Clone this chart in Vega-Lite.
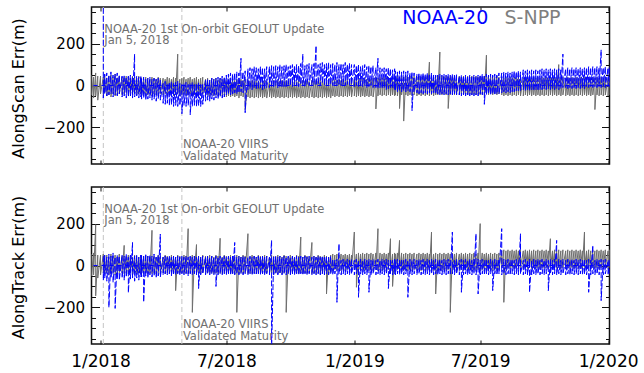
{
  "$schema": "https://vega.github.io/schema/vega-lite/v6.json",
  "autosize": {"type": "pad"},
  "padding": {"left": 9.5, "top": 4, "right": 5, "bottom": 5},
  "bounds": "flush",
  "spacing": 23,
  "background": "white",
  "config": {
    "view": {"stroke": "#111", "strokeWidth": 1.5},
    "axis": {"domain": false, "grid": false, "tickColor": "#111", "tickWidth": 1, "labelFont": "DejaVu Sans", "labelColor": "#000", "titleFont": "DejaVu Sans", "titleFontWeight": "normal", "titleColor": "#000", "labelOverlap": false, "labelFlush": false},
    "text": {"font": "DejaVu Sans"}
  },
  "datasets": {
    "events": [{"t": "2018-01-05"}, {"t": "2018-04-28"}],
    "notes": [
      {"t": "2018-01-05", "v": 252, "txt": ["NOAA-20 1st On-orbit GEOLUT Update", "Jan 5, 2018"]},
      {"t": "2018-04-28", "v": -300, "txt": ["NOAA-20 VIIRS", "Validated Maturity"]}
    ],
    "legend": [
      {"t": "2019-03-11", "v": 294, "s": "NOAA-20"},
      {"t": "2019-08-05", "v": 294, "s": "S-NPP"}
    ],
    "err": [
{"t":"2017-12-19","a":50,"c":55},{"t":"2017-12-19","a":-45,"c":-50},
{"t":"2017-12-22","a":40,"c":60},{"t":"2017-12-22","a":-60,"c":-45},
{"t":"2017-12-25","a":60,"c":195},{"t":"2017-12-25","a":-50,"c":-145},
{"t":"2017-12-28","a":45,"c":50},{"t":"2017-12-28","a":-70,"c":-60},
{"t":"2018-01-01","a":45,"c":50},{"t":"2018-01-01","a":-40,"c":-45},
{"t":"2018-01-05","a":40,"b":600,"c":55,"d":45},{"t":"2018-01-05","a":-50,"b":-60,"c":-35,"d":-70},
{"t":"2018-01-07","a":50,"b":55,"c":45,"d":50},{"t":"2018-01-07","a":-35,"b":-40,"c":-40,"d":-60},
{"t":"2018-01-10","a":35,"b":60,"c":50,"d":40},{"t":"2018-01-10","a":-50,"b":-50,"c":-35,"d":-75},
{"t":"2018-01-13","a":45,"b":50,"c":40,"d":55},{"t":"2018-01-13","a":-45,"b":-45,"c":-45,"d":-200},
{"t":"2018-01-16","a":50,"b":65,"c":55,"d":45},{"t":"2018-01-16","a":-55,"b":-40,"c":-40,"d":-60},
{"t":"2018-01-19","a":40,"b":50,"c":45,"d":60},{"t":"2018-01-19","a":-40,"b":-55,"c":-35,"d":-80},
{"t":"2018-01-22","a":55,"b":55,"c":50,"d":40},{"t":"2018-01-22","a":-50,"b":-45,"c":-45,"d":-205},
{"t":"2018-01-25","a":35,"b":60,"c":40,"d":50},{"t":"2018-01-25","a":-45,"b":-50,"c":-40,"d":-65},
{"t":"2018-01-28","a":45,"b":50,"c":55,"d":45},{"t":"2018-01-28","a":-40,"b":-40,"c":-35,"d":-70},
{"t":"2018-02-01","a":40,"b":45,"c":45,"d":50},{"t":"2018-02-01","a":-45,"b":-55,"c":-35,"d":-60},
{"t":"2018-02-04","a":35,"b":50,"c":96,"d":45},{"t":"2018-02-04","a":-40,"b":-50,"c":-40,"d":-70},
{"t":"2018-02-07","a":45,"b":40,"c":40,"d":55},{"t":"2018-02-07","a":-35,"b":-60,"c":-35,"d":-55},
{"t":"2018-02-10","a":40,"b":45,"c":50,"d":40},{"t":"2018-02-10","a":-45,"b":-55,"c":-40,"d":-130},
{"t":"2018-02-13","a":35,"b":50,"c":45,"d":50},{"t":"2018-02-13","a":-40,"b":-50,"c":-30,"d":-65},
{"t":"2018-02-16","a":45,"b":40,"c":40,"d":110},{"t":"2018-02-16","a":-45,"b":-60,"c":-40,"d":-60},
{"t":"2018-02-19","a":40,"b":150,"c":50,"d":45},{"t":"2018-02-19","a":-35,"b":-55,"c":-35,"d":-75},
{"t":"2018-02-22","a":35,"b":45,"c":45,"d":50},{"t":"2018-02-22","a":-45,"b":-50,"c":-40,"d":-60},
{"t":"2018-02-25","a":45,"b":40,"c":40,"d":40},{"t":"2018-02-25","a":-40,"b":-60,"c":-35,"d":-70},
{"t":"2018-02-28","a":40,"b":45,"c":50,"d":50},{"t":"2018-02-28","a":-40,"b":-55,"c":-40,"d":-55},
{"t":"2018-03-01","a":35,"b":35,"c":45,"d":50},{"t":"2018-03-01","a":-45,"b":-65,"c":-35,"d":-55},
{"t":"2018-03-04","a":30,"b":40,"c":40,"d":45},{"t":"2018-03-04","a":-40,"b":-60,"c":-40,"d":-175},
{"t":"2018-03-07","a":40,"b":30,"c":50,"d":55},{"t":"2018-03-07","a":-50,"b":-70,"c":-35,"d":-50},
{"t":"2018-03-10","a":35,"b":35,"c":45,"d":45},{"t":"2018-03-10","a":-45,"b":-65,"c":-40,"d":-60},
{"t":"2018-03-13","a":30,"b":40,"c":40,"d":50},{"t":"2018-03-13","a":-40,"b":-60,"c":-35,"d":-45},
{"t":"2018-03-16","a":40,"b":30,"c":168,"d":45},{"t":"2018-03-16","a":-50,"b":-70,"c":-40,"d":-55},
{"t":"2018-03-19","a":35,"b":35,"c":45,"d":55},{"t":"2018-03-19","a":-40,"b":-65,"c":-35,"d":-50},
{"t":"2018-03-22","a":30,"b":30,"c":40,"d":40},{"t":"2018-03-22","a":-45,"b":-75,"c":-40,"d":-60},
{"t":"2018-03-25","a":40,"b":35,"c":50,"d":50},{"t":"2018-03-25","a":-50,"b":-65,"c":-35,"d":-50},
{"t":"2018-03-28","a":35,"b":25,"c":45,"d":150},{"t":"2018-03-28","a":-40,"b":-70,"c":-40,"d":-55},
{"t":"2018-04-01","a":35,"b":15,"c":40,"d":40},{"t":"2018-04-01","a":-45,"b":-85,"c":-35,"d":-45},
{"t":"2018-04-04","a":30,"b":20,"c":50,"d":45},{"t":"2018-04-04","a":-40,"b":-90,"c":-40,"d":-40},
{"t":"2018-04-07","a":40,"b":10,"c":45,"d":40},{"t":"2018-04-07","a":-50,"b":-85,"c":-35,"d":-45},
{"t":"2018-04-10","a":35,"b":15,"c":40,"d":45},{"t":"2018-04-10","a":-45,"b":-95,"c":-40,"d":-40},
{"t":"2018-04-13","a":30,"b":20,"c":50,"d":40},{"t":"2018-04-13","a":-40,"b":-90,"c":-35,"d":-50},
{"t":"2018-04-16","a":40,"b":10,"c":45,"d":45},{"t":"2018-04-16","a":-50,"b":-100,"c":-40,"d":-40},
{"t":"2018-04-19","a":35,"b":15,"c":40,"d":40},{"t":"2018-04-19","a":-45,"b":-95,"c":-120,"d":-45},
{"t":"2018-04-22","a":150,"b":20,"c":50,"d":45},{"t":"2018-04-22","a":-40,"b":-100,"c":-35,"d":-40},
{"t":"2018-04-25","a":30,"b":10,"c":45,"d":40},{"t":"2018-04-25","a":-50,"b":-95,"c":-40,"d":-45},
{"t":"2018-04-28","a":35,"b":5,"c":40,"d":45},{"t":"2018-04-28","a":-45,"b":-135,"c":-35,"d":-40},
{"t":"2018-05-01","a":40,"b":10,"c":50,"d":40},{"t":"2018-05-01","a":-40,"b":-95,"c":-40,"d":-45},
{"t":"2018-05-04","a":30,"b":15,"c":45,"d":45},{"t":"2018-05-04","a":-50,"b":-100,"c":-35,"d":-40},
{"t":"2018-05-07","a":35,"b":5,"c":176,"d":40},{"t":"2018-05-07","a":-45,"b":-95,"c":-40,"d":-50},
{"t":"2018-05-10","a":40,"b":10,"c":40,"d":45},{"t":"2018-05-10","a":-40,"b":-140,"c":-35,"d":-40},
{"t":"2018-05-13","a":30,"b":15,"c":50,"d":40},{"t":"2018-05-13","a":-50,"b":-100,"c":-224,"d":-45},
{"t":"2018-05-16","a":35,"b":5,"c":45,"d":45},{"t":"2018-05-16","a":-45,"b":-95,"c":-35,"d":-40},
{"t":"2018-05-19","a":40,"b":10,"c":100,"d":40},{"t":"2018-05-19","a":-40,"b":-100,"c":-40,"d":-45},
{"t":"2018-05-22","a":30,"b":15,"c":45,"d":45},{"t":"2018-05-22","a":-50,"b":-95,"c":-35,"d":-110},
{"t":"2018-05-25","a":35,"b":5,"c":40,"d":40},{"t":"2018-05-25","a":-45,"b":-100,"c":-40,"d":-45},
{"t":"2018-05-28","a":40,"b":10,"c":50,"d":45},{"t":"2018-05-28","a":-40,"b":-90,"c":-35,"d":-40},
{"t":"2018-06-01","a":30,"b":25,"c":45,"d":40},{"t":"2018-06-01","a":-50,"b":-75,"c":-40,"d":-45},
{"t":"2018-06-04","a":35,"b":30,"c":40,"d":45},{"t":"2018-06-04","a":-45,"b":-70,"c":-35,"d":-40},
{"t":"2018-06-07","a":25,"b":25,"c":50,"d":40},{"t":"2018-06-07","a":-50,"b":-75,"c":-40,"d":-45},
{"t":"2018-06-10","a":35,"b":35,"c":45,"d":45},{"t":"2018-06-10","a":-45,"b":-65,"c":-35,"d":-40},
{"t":"2018-06-13","a":30,"b":30,"c":40,"d":40},{"t":"2018-06-13","a":-50,"b":-70,"c":-40,"d":-45},
{"t":"2018-06-16","a":35,"b":35,"c":50,"d":45},{"t":"2018-06-16","a":-45,"b":-60,"c":-35,"d":-100},
{"t":"2018-06-19","a":25,"b":40,"c":45,"d":40},{"t":"2018-06-19","a":-50,"b":-65,"c":-40,"d":-45},
{"t":"2018-06-22","a":35,"b":35,"c":130,"d":45},{"t":"2018-06-22","a":-45,"b":-55,"c":-35,"d":-40},
{"t":"2018-06-25","a":30,"b":45,"c":40,"d":40},{"t":"2018-06-25","a":-50,"b":-60,"c":-40,"d":-45},
{"t":"2018-06-28","a":35,"b":40,"c":50,"d":45},{"t":"2018-06-28","a":-45,"b":-55,"c":-35,"d":-40},
{"t":"2018-07-01","a":25,"b":50,"c":45,"d":40},{"t":"2018-07-01","a":-55,"b":-45,"c":-40,"d":-45},
{"t":"2018-07-04","a":30,"b":55,"c":40,"d":45},{"t":"2018-07-04","a":-50,"b":-40,"c":-35,"d":-40},
{"t":"2018-07-07","a":25,"b":60,"c":50,"d":40},{"t":"2018-07-07","a":-55,"b":-45,"c":-40,"d":-45},
{"t":"2018-07-10","a":30,"b":55,"c":45,"d":45},{"t":"2018-07-10","a":-50,"b":-40,"c":-35,"d":-40},
{"t":"2018-07-13","a":25,"b":60,"c":40,"d":110},{"t":"2018-07-13","a":-55,"b":-35,"c":-40,"d":-45},
{"t":"2018-07-16","a":30,"b":65,"c":50,"d":40},{"t":"2018-07-16","a":-50,"b":-40,"c":-224,"d":-40},
{"t":"2018-07-19","a":25,"b":60,"c":45,"d":45},{"t":"2018-07-19","a":-60,"b":-35,"c":-40,"d":-45},
{"t":"2018-07-22","a":30,"b":130,"c":40,"d":40},{"t":"2018-07-22","a":-50,"b":-30,"c":-35,"d":-40},
{"t":"2018-07-25","a":25,"b":65,"c":50,"d":45},{"t":"2018-07-25","a":-55,"b":-35,"c":-40,"d":-45},
{"t":"2018-07-28","a":30,"b":70,"c":45,"d":40},{"t":"2018-07-28","a":-115,"b":-130,"c":-35,"d":-40},
{"t":"2018-08-01","a":25,"b":80,"c":152,"d":40},{"t":"2018-08-01","a":-55,"b":-20,"c":-40,"d":-45},
{"t":"2018-08-04","a":20,"b":85,"c":40,"d":45},{"t":"2018-08-04","a":-60,"b":-15,"c":-35,"d":-40},
{"t":"2018-08-07","a":25,"b":80,"c":50,"d":40},{"t":"2018-08-07","a":-55,"b":-20,"c":-40,"d":-45},
{"t":"2018-08-10","a":20,"b":90,"c":45,"d":45},{"t":"2018-08-10","a":-60,"b":-10,"c":-35,"d":-40},
{"t":"2018-08-13","a":25,"b":85,"c":40,"d":40},{"t":"2018-08-13","a":-55,"b":-20,"c":-40,"d":-45},
{"t":"2018-08-16","a":20,"b":80,"c":50,"d":45},{"t":"2018-08-16","a":-60,"b":-15,"c":-35,"d":-40},
{"t":"2018-08-19","a":25,"b":90,"c":45,"d":40},{"t":"2018-08-19","a":-55,"b":-10,"c":-40,"d":-45},
{"t":"2018-08-22","a":20,"b":85,"c":40,"d":45},{"t":"2018-08-22","a":-60,"b":-20,"c":-35,"d":-40},
{"t":"2018-08-25","a":25,"b":80,"c":50,"d":40},{"t":"2018-08-25","a":-55,"b":-15,"c":-40,"d":-45},
{"t":"2018-08-28","a":20,"b":90,"c":45,"d":45},{"t":"2018-08-28","a":-60,"b":-10,"c":-35,"d":-40},
{"t":"2018-09-01","a":25,"b":90,"c":40,"d":40},{"t":"2018-09-01","a":-55,"b":-10,"c":-40,"d":-45},
{"t":"2018-09-04","a":20,"b":95,"c":50,"d":120},{"t":"2018-09-04","a":-60,"b":-5,"c":-35,"d":-400},
{"t":"2018-09-07","a":25,"b":90,"c":45,"d":40},{"t":"2018-09-07","a":-55,"b":-10,"c":-40,"d":-45},
{"t":"2018-09-10","a":20,"b":95,"c":40,"d":45},{"t":"2018-09-10","a":-60,"b":0,"c":-35,"d":-40},
{"t":"2018-09-13","a":25,"b":90,"c":50,"d":40},{"t":"2018-09-13","a":-55,"b":-10,"c":-40,"d":-45},
{"t":"2018-09-16","a":20,"b":100,"c":45,"d":45},{"t":"2018-09-16","a":-60,"b":-5,"c":-35,"d":-40},
{"t":"2018-09-19","a":25,"b":90,"c":40,"d":40},{"t":"2018-09-19","a":-55,"b":-10,"c":-40,"d":-45},
{"t":"2018-09-22","a":20,"b":95,"c":50,"d":45},{"t":"2018-09-22","a":-60,"b":-5,"c":-35,"d":-40},
{"t":"2018-09-25","a":25,"b":100,"c":45,"d":40},{"t":"2018-09-25","a":-55,"b":-10,"c":-224,"d":-45},
{"t":"2018-09-28","a":20,"b":90,"c":40,"d":45},{"t":"2018-09-28","a":-60,"b":0,"c":-35,"d":-40},
{"t":"2018-10-01","a":25,"b":95,"c":50,"d":40},{"t":"2018-10-01","a":-55,"b":0,"c":-40,"d":-45},
{"t":"2018-10-04","a":20,"b":100,"c":45,"d":45},{"t":"2018-10-04","a":-60,"b":-5,"c":-35,"d":-40},
{"t":"2018-10-07","a":25,"b":95,"c":40,"d":40},{"t":"2018-10-07","a":-55,"b":5,"c":-40,"d":-45},
{"t":"2018-10-10","a":20,"b":100,"c":50,"d":45},{"t":"2018-10-10","a":-60,"b":0,"c":-35,"d":-40},
{"t":"2018-10-13","a":25,"b":95,"c":45,"d":40},{"t":"2018-10-13","a":-55,"b":-5,"c":-40,"d":-45},
{"t":"2018-10-16","a":20,"b":105,"c":136,"d":45},{"t":"2018-10-16","a":-60,"b":5,"c":-35,"d":-40},
{"t":"2018-10-19","a":25,"b":150,"c":40,"d":40},{"t":"2018-10-19","a":-55,"b":0,"c":-40,"d":-45},
{"t":"2018-10-22","a":20,"b":95,"c":50,"d":45},{"t":"2018-10-22","a":-60,"b":-5,"c":-35,"d":-40},
{"t":"2018-10-25","a":25,"b":100,"c":45,"d":40},{"t":"2018-10-25","a":-55,"b":5,"c":-40,"d":-45},
{"t":"2018-10-28","a":20,"b":105,"c":40,"d":45},{"t":"2018-10-28","a":-60,"b":0,"c":-35,"d":-40},
{"t":"2018-11-01","a":25,"b":100,"c":110,"d":40},{"t":"2018-11-01","a":-55,"b":0,"c":-40,"d":-45},
{"t":"2018-11-04","a":20,"b":105,"c":45,"d":45},{"t":"2018-11-04","a":-60,"b":5,"c":-35,"d":-40},
{"t":"2018-11-07","a":25,"b":190,"c":40,"d":40},{"t":"2018-11-07","a":-55,"b":0,"c":-40,"d":-45},
{"t":"2018-11-10","a":20,"b":100,"c":50,"d":45},{"t":"2018-11-10","a":-60,"b":5,"c":-35,"d":-40},
{"t":"2018-11-13","a":25,"b":105,"c":45,"d":40},{"t":"2018-11-13","a":-55,"b":0,"c":-40,"d":-45},
{"t":"2018-11-16","a":20,"b":110,"c":40,"d":45},{"t":"2018-11-16","a":-60,"b":10,"c":-35,"d":-40},
{"t":"2018-11-19","a":25,"b":100,"c":50,"d":40},{"t":"2018-11-19","a":-55,"b":0,"c":-40,"d":-45},
{"t":"2018-11-22","a":20,"b":105,"c":45,"d":45},{"t":"2018-11-22","a":-60,"b":5,"c":-136,"d":-40},
{"t":"2018-11-25","a":25,"b":110,"c":40,"d":40},{"t":"2018-11-25","a":-55,"b":0,"c":-40,"d":-45},
{"t":"2018-11-28","a":20,"b":100,"c":50,"d":45},{"t":"2018-11-28","a":-60,"b":5,"c":-35,"d":-40},
{"t":"2018-12-01","a":25,"b":105,"c":55,"d":30},{"t":"2018-12-01","a":-50,"b":0,"c":-25,"d":-45},
{"t":"2018-12-04","a":30,"b":100,"c":50,"d":25},{"t":"2018-12-04","a":-55,"b":5,"c":-20,"d":-40},
{"t":"2018-12-07","a":25,"b":110,"c":55,"d":30},{"t":"2018-12-07","a":-50,"b":0,"c":-25,"d":-176},
{"t":"2018-12-10","a":30,"b":100,"c":50,"d":104},{"t":"2018-12-10","a":-55,"b":5,"c":-20,"d":-40},
{"t":"2018-12-13","a":25,"b":105,"c":55,"d":25},{"t":"2018-12-13","a":-50,"b":0,"c":-25,"d":-45},
{"t":"2018-12-16","a":30,"b":100,"c":50,"d":30},{"t":"2018-12-16","a":-55,"b":5,"c":-20,"d":-40},
{"t":"2018-12-19","a":25,"b":110,"c":55,"d":25},{"t":"2018-12-19","a":-50,"b":0,"c":-25,"d":-45},
{"t":"2018-12-22","a":30,"b":100,"c":50,"d":30},{"t":"2018-12-22","a":-55,"b":5,"c":-20,"d":-40},
{"t":"2018-12-25","a":25,"b":105,"c":55,"d":25},{"t":"2018-12-25","a":-50,"b":0,"c":-25,"d":-45},
{"t":"2018-12-28","a":30,"b":100,"c":50,"d":30},{"t":"2018-12-28","a":-55,"b":5,"c":-20,"d":-40},
{"t":"2019-01-01","a":30,"b":100,"c":160,"d":25},{"t":"2019-01-01","a":-50,"b":-5,"c":-20,"d":-45},
{"t":"2019-01-04","a":35,"b":95,"c":55,"d":30},{"t":"2019-01-04","a":-55,"b":0,"c":-104,"d":-40},
{"t":"2019-01-07","a":30,"b":100,"c":60,"d":25},{"t":"2019-01-07","a":-50,"b":-5,"c":-20,"d":-152},
{"t":"2019-01-10","a":35,"b":90,"c":55,"d":30},{"t":"2019-01-10","a":-55,"b":0,"c":-25,"d":-40},
{"t":"2019-01-13","a":30,"b":95,"c":60,"d":25},{"t":"2019-01-13","a":-50,"b":-5,"c":-20,"d":-45},
{"t":"2019-01-16","a":35,"b":100,"c":55,"d":30},{"t":"2019-01-16","a":-55,"b":0,"c":-25,"d":-40},
{"t":"2019-01-19","a":30,"b":90,"c":60,"d":25},{"t":"2019-01-19","a":-50,"b":-10,"c":-20,"d":-45},
{"t":"2019-01-22","a":35,"b":95,"c":55,"d":30},{"t":"2019-01-22","a":-55,"b":-5,"c":-25,"d":-128},
{"t":"2019-01-25","a":30,"b":90,"c":60,"d":25},{"t":"2019-01-25","a":-50,"b":0,"c":-20,"d":-45},
{"t":"2019-01-28","a":35,"b":95,"c":55,"d":30},{"t":"2019-01-28","a":-55,"b":-10,"c":-25,"d":-40},
{"t":"2019-02-01","a":40,"b":85,"c":60,"d":25},{"t":"2019-02-01","a":-112,"b":-10,"c":-20,"d":-45},
{"t":"2019-02-04","a":35,"b":130,"c":176,"d":30},{"t":"2019-02-04","a":-50,"b":-15,"c":-25,"d":-40},
{"t":"2019-02-07","a":40,"b":85,"c":60,"d":25},{"t":"2019-02-07","a":-45,"b":-10,"c":-20,"d":-45},
{"t":"2019-02-10","a":35,"b":80,"c":55,"d":30},{"t":"2019-02-10","a":-50,"b":-15,"c":-25,"d":-40},
{"t":"2019-02-13","a":40,"b":85,"c":60,"d":25},{"t":"2019-02-13","a":-45,"b":-10,"c":-20,"d":-45},
{"t":"2019-02-16","a":35,"b":80,"c":55,"d":30},{"t":"2019-02-16","a":-50,"b":-20,"c":-25,"d":-40},
{"t":"2019-02-19","a":40,"b":85,"c":60,"d":25},{"t":"2019-02-19","a":-45,"b":-15,"c":-20,"d":-110},
{"t":"2019-02-22","a":35,"b":80,"c":128,"d":30},{"t":"2019-02-22","a":-50,"b":-10,"c":-25,"d":-40},
{"t":"2019-02-25","a":40,"b":75,"c":55,"d":25},{"t":"2019-02-25","a":-45,"b":-15,"c":-100,"d":-45},
{"t":"2019-02-28","a":35,"b":80,"c":60,"d":30},{"t":"2019-02-28","a":-50,"b":-20,"c":-20,"d":-40},
{"t":"2019-03-01","a":40,"b":70,"c":55,"d":25},{"t":"2019-03-01","a":-45,"b":-25,"c":-25,"d":-45},
{"t":"2019-03-04","a":45,"b":65,"c":60,"d":30},{"t":"2019-03-04","a":-50,"b":-30,"c":-20,"d":-40},
{"t":"2019-03-07","a":40,"b":70,"c":120,"d":25},{"t":"2019-03-07","a":-110,"b":-25,"c":-25,"d":-45},
{"t":"2019-03-10","a":45,"b":65,"c":60,"d":30},{"t":"2019-03-10","a":-45,"b":-30,"c":-20,"d":-40},
{"t":"2019-03-13","a":40,"b":70,"c":55,"d":25},{"t":"2019-03-13","a":-170,"b":-25,"c":-25,"d":-45},
{"t":"2019-03-16","a":45,"b":65,"c":60,"d":30},{"t":"2019-03-16","a":-45,"b":-30,"c":-20,"d":-40},
{"t":"2019-03-19","a":40,"b":70,"c":55,"d":25},{"t":"2019-03-19","a":-50,"b":-25,"c":-25,"d":-152},
{"t":"2019-03-22","a":45,"b":60,"c":60,"d":30},{"t":"2019-03-22","a":-45,"b":-30,"c":-20,"d":-40},
{"t":"2019-03-25","a":40,"b":65,"c":55,"d":25},{"t":"2019-03-25","a":-50,"b":-120,"c":-25,"d":-45},
{"t":"2019-03-28","a":45,"b":60,"c":60,"d":30},{"t":"2019-03-28","a":-45,"b":-30,"c":-20,"d":-40},
{"t":"2019-04-01","a":40,"b":55,"c":55,"d":25},{"t":"2019-04-01","a":-50,"b":-35,"c":-25,"d":-45},
{"t":"2019-04-04","a":45,"b":60,"c":60,"d":30},{"t":"2019-04-04","a":-45,"b":-40,"c":-20,"d":-40},
{"t":"2019-04-07","a":40,"b":55,"c":55,"d":25},{"t":"2019-04-07","a":-50,"b":-35,"c":-25,"d":-45},
{"t":"2019-04-10","a":45,"b":60,"c":60,"d":30},{"t":"2019-04-10","a":-45,"b":-40,"c":-20,"d":-40},
{"t":"2019-04-13","a":40,"b":55,"c":55,"d":25},{"t":"2019-04-13","a":-50,"b":-35,"c":-25,"d":-45},
{"t":"2019-04-16","a":45,"b":60,"c":60,"d":30},{"t":"2019-04-16","a":-45,"b":-40,"c":-20,"d":-40},
{"t":"2019-04-19","a":112,"b":55,"c":55,"d":25},{"t":"2019-04-19","a":-50,"b":-35,"c":-25,"d":-45},
{"t":"2019-04-22","a":45,"b":60,"c":160,"d":30},{"t":"2019-04-22","a":-45,"b":-40,"c":-20,"d":-40},
{"t":"2019-04-25","a":40,"b":55,"c":55,"d":25},{"t":"2019-04-25","a":-50,"b":-35,"c":-25,"d":-45},
{"t":"2019-04-28","a":45,"b":50,"c":60,"d":30},{"t":"2019-04-28","a":-45,"b":-40,"c":-136,"d":-40},
{"t":"2019-05-01","a":45,"b":50,"c":55,"d":25},{"t":"2019-05-01","a":-45,"b":-40,"c":-25,"d":-45},
{"t":"2019-05-04","a":160,"b":55,"c":60,"d":30},{"t":"2019-05-04","a":-40,"b":-45,"c":-20,"d":-40},
{"t":"2019-05-07","a":45,"b":50,"c":55,"d":25},{"t":"2019-05-07","a":-45,"b":-40,"c":-25,"d":-45},
{"t":"2019-05-10","a":40,"b":55,"c":60,"d":30},{"t":"2019-05-10","a":-40,"b":-45,"c":-20,"d":-40},
{"t":"2019-05-13","a":45,"b":50,"c":55,"d":25},{"t":"2019-05-13","a":-45,"b":-40,"c":-25,"d":-45},
{"t":"2019-05-16","a":40,"b":55,"c":60,"d":30},{"t":"2019-05-16","a":-110,"b":-45,"c":-20,"d":-40},
{"t":"2019-05-19","a":45,"b":50,"c":55,"d":25},{"t":"2019-05-19","a":-45,"b":-40,"c":-224,"d":-45},
{"t":"2019-05-22","a":40,"b":55,"c":60,"d":160},{"t":"2019-05-22","a":-40,"b":-45,"c":-20,"d":-40},
{"t":"2019-05-25","a":45,"b":50,"c":55,"d":25},{"t":"2019-05-25","a":-45,"b":-40,"c":-25,"d":-45},
{"t":"2019-05-28","a":40,"b":55,"c":60,"d":30},{"t":"2019-05-28","a":-40,"b":-45,"c":-20,"d":-40},
{"t":"2019-06-01","a":45,"b":45,"c":55,"d":25},{"t":"2019-06-01","a":-45,"b":-45,"c":-25,"d":-45},
{"t":"2019-06-04","a":40,"b":50,"c":60,"d":30},{"t":"2019-06-04","a":-40,"b":-50,"c":-20,"d":-128},
{"t":"2019-06-07","a":45,"b":45,"c":55,"d":25},{"t":"2019-06-07","a":-45,"b":-45,"c":-25,"d":-45},
{"t":"2019-06-10","a":40,"b":50,"c":60,"d":30},{"t":"2019-06-10","a":-40,"b":-50,"c":-20,"d":-40},
{"t":"2019-06-13","a":45,"b":45,"c":55,"d":25},{"t":"2019-06-13","a":-45,"b":-45,"c":-25,"d":-45},
{"t":"2019-06-16","a":40,"b":50,"c":60,"d":30},{"t":"2019-06-16","a":-40,"b":-50,"c":-20,"d":-40},
{"t":"2019-06-19","a":45,"b":45,"c":55,"d":25},{"t":"2019-06-19","a":-45,"b":-45,"c":-25,"d":-45},
{"t":"2019-06-22","a":40,"b":50,"c":60,"d":30},{"t":"2019-06-22","a":-40,"b":-50,"c":-20,"d":-40},
{"t":"2019-06-25","a":45,"b":45,"c":55,"d":152},{"t":"2019-06-25","a":-45,"b":-45,"c":-25,"d":-45},
{"t":"2019-06-28","a":40,"b":50,"c":60,"d":30},{"t":"2019-06-28","a":-40,"b":-50,"c":-20,"d":-136},
{"t":"2019-07-01","a":45,"b":50,"c":200,"d":25},{"t":"2019-07-01","a":-45,"b":-40,"c":-25,"d":-45},
{"t":"2019-07-04","a":40,"b":55,"c":60,"d":30},{"t":"2019-07-04","a":-40,"b":-45,"c":-20,"d":-40},
{"t":"2019-07-07","a":45,"b":50,"c":55,"d":25},{"t":"2019-07-07","a":-45,"b":-90,"c":-25,"d":-45},
{"t":"2019-07-10","a":145,"b":55,"c":60,"d":30},{"t":"2019-07-10","a":-40,"b":-45,"c":-20,"d":-40},
{"t":"2019-07-13","a":45,"b":50,"c":55,"d":25},{"t":"2019-07-13","a":-45,"b":-40,"c":-25,"d":-45},
{"t":"2019-07-16","a":40,"b":55,"c":60,"d":30},{"t":"2019-07-16","a":-40,"b":-45,"c":-20,"d":-40},
{"t":"2019-07-19","a":45,"b":50,"c":55,"d":25},{"t":"2019-07-19","a":-45,"b":-40,"c":-25,"d":-120},
{"t":"2019-07-22","a":40,"b":55,"c":60,"d":30},{"t":"2019-07-22","a":-40,"b":-45,"c":-20,"d":-40},
{"t":"2019-07-25","a":45,"b":50,"c":55,"d":25},{"t":"2019-07-25","a":-45,"b":-40,"c":-25,"d":-45},
{"t":"2019-07-28","a":40,"b":60,"c":60,"d":30},{"t":"2019-07-28","a":-40,"b":-40,"c":-20,"d":-40},
{"t":"2019-08-01","a":40,"b":60,"c":70,"d":176},{"t":"2019-08-01","a":-45,"b":-35,"c":-10,"d":-45},
{"t":"2019-08-04","a":35,"b":65,"c":75,"d":30},{"t":"2019-08-04","a":-50,"b":-30,"c":-176,"d":-40},
{"t":"2019-08-07","a":40,"b":60,"c":70,"d":25},{"t":"2019-08-07","a":-45,"b":-35,"c":-15,"d":-45},
{"t":"2019-08-10","a":35,"b":65,"c":75,"d":30},{"t":"2019-08-10","a":-50,"b":-30,"c":-10,"d":-40},
{"t":"2019-08-13","a":40,"b":60,"c":70,"d":25},{"t":"2019-08-13","a":-45,"b":-35,"c":-15,"d":-45},
{"t":"2019-08-16","a":35,"b":65,"c":75,"d":30},{"t":"2019-08-16","a":-50,"b":-30,"c":-10,"d":-40},
{"t":"2019-08-19","a":40,"b":70,"c":70,"d":25},{"t":"2019-08-19","a":-45,"b":-30,"c":-15,"d":-45},
{"t":"2019-08-22","a":35,"b":65,"c":75,"d":30},{"t":"2019-08-22","a":-50,"b":-25,"c":-10,"d":-40},
{"t":"2019-08-25","a":40,"b":70,"c":70,"d":25},{"t":"2019-08-25","a":-45,"b":-25,"c":-15,"d":-45},
{"t":"2019-08-28","a":35,"b":65,"c":75,"d":152},{"t":"2019-08-28","a":-50,"b":-25,"c":-10,"d":-40},
{"t":"2019-09-01","a":35,"b":75,"c":70,"d":25},{"t":"2019-09-01","a":-50,"b":-20,"c":-15,"d":-45},
{"t":"2019-09-04","a":40,"b":70,"c":75,"d":30},{"t":"2019-09-04","a":-45,"b":-25,"c":-10,"d":-40},
{"t":"2019-09-07","a":35,"b":75,"c":70,"d":25},{"t":"2019-09-07","a":-50,"b":-20,"c":-15,"d":-45},
{"t":"2019-09-10","a":40,"b":70,"c":75,"d":30},{"t":"2019-09-10","a":-45,"b":-25,"c":-10,"d":-128},
{"t":"2019-09-13","a":35,"b":75,"c":70,"d":25},{"t":"2019-09-13","a":-50,"b":-20,"c":-15,"d":-45},
{"t":"2019-09-16","a":40,"b":70,"c":75,"d":30},{"t":"2019-09-16","a":-45,"b":-25,"c":-10,"d":-40},
{"t":"2019-09-19","a":35,"b":75,"c":70,"d":25},{"t":"2019-09-19","a":-50,"b":-20,"c":-15,"d":-45},
{"t":"2019-09-22","a":40,"b":70,"c":75,"d":30},{"t":"2019-09-22","a":-45,"b":-25,"c":-10,"d":-40},
{"t":"2019-09-25","a":35,"b":75,"c":70,"d":25},{"t":"2019-09-25","a":-50,"b":-20,"c":-15,"d":-45},
{"t":"2019-09-28","a":40,"b":80,"c":75,"d":30},{"t":"2019-09-28","a":-45,"b":-20,"c":-10,"d":-40},
{"t":"2019-10-01","a":35,"b":75,"c":70,"d":25},{"t":"2019-10-01","a":-50,"b":-15,"c":-15,"d":-45},
{"t":"2019-10-04","a":40,"b":80,"c":75,"d":30},{"t":"2019-10-04","a":-45,"b":-20,"c":-10,"d":-40},
{"t":"2019-10-07","a":35,"b":75,"c":70,"d":25},{"t":"2019-10-07","a":-50,"b":-15,"c":-15,"d":-120},
{"t":"2019-10-10","a":40,"b":80,"c":128,"d":30},{"t":"2019-10-10","a":-45,"b":-20,"c":-10,"d":-40},
{"t":"2019-10-13","a":35,"b":75,"c":70,"d":25},{"t":"2019-10-13","a":-50,"b":-15,"c":-15,"d":-45},
{"t":"2019-10-16","a":40,"b":80,"c":75,"d":30},{"t":"2019-10-16","a":-45,"b":-20,"c":-10,"d":-40},
{"t":"2019-10-19","a":35,"b":75,"c":70,"d":120},{"t":"2019-10-19","a":-50,"b":-15,"c":-15,"d":-45},
{"t":"2019-10-22","a":100,"b":80,"c":75,"d":30},{"t":"2019-10-22","a":-45,"b":-20,"c":-10,"d":-40},
{"t":"2019-10-25","a":35,"b":75,"c":70,"d":25},{"t":"2019-10-25","a":-50,"b":-15,"c":-15,"d":-45},
{"t":"2019-10-28","a":40,"b":150,"c":75,"d":30},{"t":"2019-10-28","a":-45,"b":-10,"c":-10,"d":-40},
{"t":"2019-11-01","a":35,"b":80,"c":70,"d":25},{"t":"2019-11-01","a":-50,"b":-10,"c":-15,"d":-45},
{"t":"2019-11-04","a":40,"b":85,"c":75,"d":30},{"t":"2019-11-04","a":-45,"b":-15,"c":-10,"d":-40},
{"t":"2019-11-07","a":35,"b":80,"c":70,"d":25},{"t":"2019-11-07","a":-50,"b":-10,"c":-15,"d":-45},
{"t":"2019-11-10","a":40,"b":85,"c":75,"d":30},{"t":"2019-11-10","a":-45,"b":-15,"c":-10,"d":-40},
{"t":"2019-11-13","a":35,"b":80,"c":70,"d":25},{"t":"2019-11-13","a":-50,"b":-10,"c":-15,"d":-45},
{"t":"2019-11-16","a":40,"b":85,"c":75,"d":30},{"t":"2019-11-16","a":-45,"b":-15,"c":-10,"d":-40},
{"t":"2019-11-19","a":35,"b":80,"c":70,"d":25},{"t":"2019-11-19","a":-50,"b":-10,"c":-15,"d":-45},
{"t":"2019-11-22","a":40,"b":85,"c":75,"d":30},{"t":"2019-11-22","a":-45,"b":-15,"c":-10,"d":-40},
{"t":"2019-11-25","a":35,"b":80,"c":70,"d":25},{"t":"2019-11-25","a":-50,"b":-10,"c":-15,"d":-45},
{"t":"2019-11-28","a":40,"b":85,"c":160,"d":30},{"t":"2019-11-28","a":-45,"b":-15,"c":-10,"d":-40},
{"t":"2019-12-01","a":35,"b":85,"c":70,"d":25},{"t":"2019-12-01","a":-50,"b":-5,"c":-15,"d":-45},
{"t":"2019-12-04","a":40,"b":90,"c":75,"d":30},{"t":"2019-12-04","a":-45,"b":-10,"c":-10,"d":-128},
{"t":"2019-12-07","a":35,"b":85,"c":70,"d":25},{"t":"2019-12-07","a":-50,"b":-5,"c":-15,"d":-45},
{"t":"2019-12-10","a":40,"b":90,"c":75,"d":96},{"t":"2019-12-10","a":-45,"b":-10,"c":-10,"d":-40},
{"t":"2019-12-13","a":35,"b":85,"c":70,"d":25},{"t":"2019-12-13","a":-115,"b":-5,"c":-15,"d":-45},
{"t":"2019-12-16","a":40,"b":90,"c":75,"d":30},{"t":"2019-12-16","a":-45,"b":-10,"c":-10,"d":-40},
{"t":"2019-12-19","a":35,"b":85,"c":70,"d":25},{"t":"2019-12-19","a":-50,"b":-5,"c":-15,"d":-45},
{"t":"2019-12-22","a":40,"b":170,"c":75,"d":30},{"t":"2019-12-22","a":-45,"b":-10,"c":-10,"d":-168},
{"t":"2019-12-25","a":35,"b":85,"c":70,"d":25},{"t":"2019-12-25","a":-50,"b":-5,"c":-15,"d":-45},
{"t":"2019-12-28","a":40,"b":90,"c":75,"d":30},{"t":"2019-12-28","a":-45,"b":-10,"c":-10,"d":-40},
{"t":"2020-01-01","a":35,"b":85,"c":70,"d":25},{"t":"2020-01-01","a":-50,"b":-5,"c":-15,"d":-45},
{"t":"2020-01-03","a":40,"b":90,"c":75,"d":30},{"t":"2020-01-03","a":-45,"b":-10,"c":-10,"d":-40}
    ]
  },
  "vconcat": [
    {
      "width": 518,
      "height": 157,
      "resolve": {"axis": {"x": "independent", "y": "independent"}},
      "layer": [
        {
          "data": {"name": "events"},
          "mark": {"type": "rule", "color": "#c4c4c4", "strokeDash": [5, 3], "strokeWidth": 1},
          "encoding": {
            "x": {"field": "t", "type": "temporal", "scale": {"type": "utc", "domain": [{"year": 2017, "month": 12, "date": 19, "utc": true}, {"year": 2020, "month": 1, "date": 3, "utc": true}]},
              "axis": {"orient": "top", "labels": false, "title": null, "tickSize": -4, "values": [{"year": 2018, "month": 1, "date": 1, "utc": true}, {"year": 2018, "month": 7, "date": 1, "utc": true}, {"year": 2019, "month": 1, "date": 1, "utc": true}, {"year": 2019, "month": 7, "date": 1, "utc": true}, {"year": 2020, "month": 1, "date": 1, "utc": true}]}}
          }
        },
        {
          "data": {"name": "err"},
          "mark": {"type": "line", "color": "#6e6e6e", "strokeWidth": 1, "clip": true},
          "encoding": {
            "x": {"field": "t", "type": "temporal", "scale": {"type": "utc", "domain": [{"year": 2017, "month": 12, "date": 19, "utc": true}, {"year": 2020, "month": 1, "date": 3, "utc": true}]},
              "axis": {"orient": "bottom", "labels": false, "title": null, "tickSize": -4, "values": [{"year": 2018, "month": 1, "date": 1, "utc": true}, {"year": 2018, "month": 7, "date": 1, "utc": true}, {"year": 2019, "month": 1, "date": 1, "utc": true}, {"year": 2019, "month": 7, "date": 1, "utc": true}, {"year": 2020, "month": 1, "date": 1, "utc": true}]}},
            "y": {"field": "a", "type": "quantitative", "scale": {"domain": [-375, 375], "nice": false, "zero": false},
              "axis": {"orient": "left", "title": "AlongScan  Err(m)", "titleFontSize": 16, "titleAngle": -90, "titleX": -73, "titleY": 81, "titleAlign": "center", "titleBaseline": "middle",
                "values": [-350, -300, -250, -200, -150, -100, -50, 0, 50, 100, 150, 200, 250, 300, 350],
                "labelExpr": "abs(datum.value) % 200 == 0 ? datum.label : ''", "labelFontSize": 15, "labelPadding": 15,
                "tickSize": {"condition": {"test": "abs(datum.value) % 200 == 0", "value": -8}, "value": -4}}}
          }
        },
        {
          "data": {"values": [{"v": 0}]},
          "mark": {"type": "rule", "color": "#0000ff", "strokeDash": [4, 4], "strokeWidth": 1},
          "encoding": {
            "y": {"field": "v", "type": "quantitative", "scale": {"domain": [-375, 375], "nice": false, "zero": false},
              "axis": {"orient": "right", "labels": false, "title": null, "values": [-350, -300, -250, -200, -150, -100, -50, 0, 50, 100, 150, 200, 250, 300, 350],
                "tickSize": {"condition": {"test": "abs(datum.value) % 200 == 0", "value": -8}, "value": -4}}}
          }
        },
        {
          "data": {"name": "err"},
          "mark": {"type": "line", "color": "#0000ff", "strokeWidth": 1, "strokeDash": [6, 2], "clip": true},
          "encoding": {
            "x": {"field": "t", "type": "temporal", "axis": null, "scale": {"type": "utc", "domain": [{"year": 2017, "month": 12, "date": 19, "utc": true}, {"year": 2020, "month": 1, "date": 3, "utc": true}]}},
            "y": {"field": "b", "type": "quantitative", "axis": null, "scale": {"domain": [-375, 375], "nice": false, "zero": false}}
          }
        },
        {
          "data": {"name": "notes"},
          "mark": {"type": "text", "align": "left", "baseline": "alphabetic", "dx": 1, "fontSize": 11.5, "lineHeight": 11.5, "color": "#707070"},
          "encoding": {
            "x": {"field": "t", "type": "temporal", "axis": null, "scale": {"type": "utc", "domain": [{"year": 2017, "month": 12, "date": 19, "utc": true}, {"year": 2020, "month": 1, "date": 3, "utc": true}]}},
            "y": {"field": "v", "type": "quantitative", "axis": null, "scale": {"domain": [-375, 375], "nice": false, "zero": false}},
            "text": {"field": "txt"}
          }
        },
        {
          "data": {"name": "legend"},
          "mark": {"type": "text", "align": "left", "baseline": "alphabetic", "fontSize": 19},
          "encoding": {
            "x": {"field": "t", "type": "temporal", "axis": null, "scale": {"type": "utc", "domain": [{"year": 2017, "month": 12, "date": 19, "utc": true}, {"year": 2020, "month": 1, "date": 3, "utc": true}]}},
            "y": {"field": "v", "type": "quantitative", "axis": null, "scale": {"domain": [-375, 375], "nice": false, "zero": false}},
            "text": {"field": "s"},
            "color": {"field": "s", "type": "nominal", "scale": {"domain": ["NOAA-20", "S-NPP"], "range": ["#0000ff", "#7f7f7f"]}, "legend": null}
          }
        }
      ]
    },
    {
      "width": 518,
      "height": 157,
      "resolve": {"axis": {"x": "independent", "y": "independent"}},
      "layer": [
        {
          "data": {"name": "events"},
          "mark": {"type": "rule", "color": "#c4c4c4", "strokeDash": [5, 3], "strokeWidth": 1},
          "encoding": {
            "x": {"field": "t", "type": "temporal", "scale": {"type": "utc", "domain": [{"year": 2017, "month": 12, "date": 19, "utc": true}, {"year": 2020, "month": 1, "date": 3, "utc": true}]},
              "axis": {"orient": "top", "labels": false, "title": null, "tickSize": -4, "values": [{"year": 2018, "month": 1, "date": 1, "utc": true}, {"year": 2018, "month": 7, "date": 1, "utc": true}, {"year": 2019, "month": 1, "date": 1, "utc": true}, {"year": 2019, "month": 7, "date": 1, "utc": true}, {"year": 2020, "month": 1, "date": 1, "utc": true}]}}
          }
        },
        {
          "data": {"name": "err"},
          "mark": {"type": "line", "color": "#6e6e6e", "strokeWidth": 1, "clip": true},
          "encoding": {
            "x": {"field": "t", "type": "temporal", "scale": {"type": "utc", "domain": [{"year": 2017, "month": 12, "date": 19, "utc": true}, {"year": 2020, "month": 1, "date": 3, "utc": true}]},
              "axis": {"orient": "bottom", "title": null, "tickSize": -4, "format": "%-m/%Y", "labelFontSize": 17, "labelPadding": 13, "values": [{"year": 2018, "month": 1, "date": 1, "utc": true}, {"year": 2018, "month": 7, "date": 1, "utc": true}, {"year": 2019, "month": 1, "date": 1, "utc": true}, {"year": 2019, "month": 7, "date": 1, "utc": true}, {"year": 2020, "month": 1, "date": 1, "utc": true}]}},
            "y": {"field": "c", "type": "quantitative", "scale": {"domain": [-375, 375], "nice": false, "zero": false},
              "axis": {"orient": "left", "title": "AlongTrack  Err(m)", "titleFontSize": 16, "titleAngle": -90, "titleX": -73, "titleY": 80, "titleAlign": "center", "titleBaseline": "middle",
                "values": [-350, -300, -250, -200, -150, -100, -50, 0, 50, 100, 150, 200, 250, 300, 350],
                "labelExpr": "abs(datum.value) % 200 == 0 ? datum.label : ''", "labelFontSize": 15, "labelPadding": 15,
                "tickSize": {"condition": {"test": "abs(datum.value) % 200 == 0", "value": -8}, "value": -4}}}
          }
        },
        {
          "data": {"values": [{"v": 0}]},
          "mark": {"type": "rule", "color": "#0000ff", "strokeDash": [4, 4], "strokeWidth": 1},
          "encoding": {
            "y": {"field": "v", "type": "quantitative", "scale": {"domain": [-375, 375], "nice": false, "zero": false},
              "axis": {"orient": "right", "labels": false, "title": null, "values": [-350, -300, -250, -200, -150, -100, -50, 0, 50, 100, 150, 200, 250, 300, 350],
                "tickSize": {"condition": {"test": "abs(datum.value) % 200 == 0", "value": -8}, "value": -4}}}
          }
        },
        {
          "data": {"name": "err"},
          "mark": {"type": "line", "color": "#0000ff", "strokeWidth": 1, "strokeDash": [6, 2], "clip": true},
          "encoding": {
            "x": {"field": "t", "type": "temporal", "axis": null, "scale": {"type": "utc", "domain": [{"year": 2017, "month": 12, "date": 19, "utc": true}, {"year": 2020, "month": 1, "date": 3, "utc": true}]}},
            "y": {"field": "d", "type": "quantitative", "axis": null, "scale": {"domain": [-375, 375], "nice": false, "zero": false}}
          }
        },
        {
          "data": {"name": "notes"},
          "mark": {"type": "text", "align": "left", "baseline": "alphabetic", "dx": 1, "fontSize": 11.5, "lineHeight": 11.5, "color": "#707070"},
          "encoding": {
            "x": {"field": "t", "type": "temporal", "axis": null, "scale": {"type": "utc", "domain": [{"year": 2017, "month": 12, "date": 19, "utc": true}, {"year": 2020, "month": 1, "date": 3, "utc": true}]}},
            "y": {"field": "v", "type": "quantitative", "axis": null, "scale": {"domain": [-375, 375], "nice": false, "zero": false}},
            "text": {"field": "txt"}
          }
        }
      ]
    }
  ]
}
